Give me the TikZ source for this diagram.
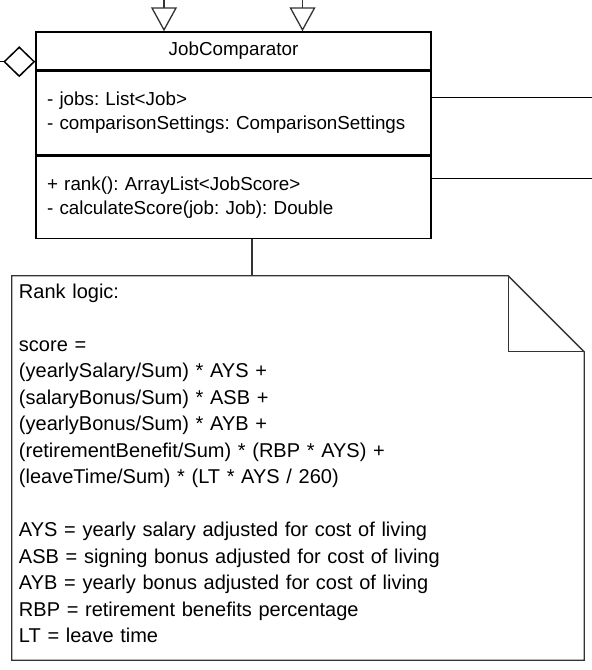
\documentclass[tikz,border=0pt]{standalone}
\usepackage{fontspec}
\setmainfont{Liberation Sans}
\usepackage{xcolor}
\usetikzlibrary{positioning,calc,arrows.meta}

\definecolor{edgegray}{HTML}{333333}
\newcommand{\umlfont}{\frenchspacing\fontsize{18.8}{24}\selectfont}
\newcommand{\notefont}{\frenchspacing\fontsize{20}{26.5}\selectfont}

\tikzset{
    classpart/.style={draw=black, line width=1.5pt, minimum width=395pt, inner xsep=11pt, inner ysep=0pt, font=\umlfont},
    classhead/.style={classpart, minimum height=38pt},
    classbody/.style={classpart, text width=373pt, align=left},
    noteline/.style={draw=edgegray, line width=1.3pt, line join=miter},
    link/.style={draw=edgegray, line width=1.3pt}
}

\begin{document}
\begin{tikzpicture}[x=1pt, y=-1pt]
    \useasboundingbox (0,0) rectangle (592,670);

    % class
    \node[classhead] (head) at (233.5,51) {JobComparator};
    \node[classbody, below=0pt of head, minimum height=83pt] (attrs) {- jobs: List<Job>\\- comparisonSettings: ComparisonSettings};
    \node[classbody, below=0pt of attrs, minimum height=82.5pt] (meths) {+ rank(): ArrayList<JobScore>\\- calculateScore(job: Job): Double};

    % note
    \node[minimum width=572pt, minimum height=384pt, inner sep=0pt] (note) at (298,468) {};
    \draw[noteline] (note.north west) -- ($(note.north east)+(-76,0)$) -- ($(note.north east)+(0,76)$) -- (note.south east) -- (note.south west) -- cycle;
    \draw[noteline] ($(note.north east)+(-76,0)$) |- ($(note.north east)+(0,76)$);
    \node[anchor=north west, inner sep=0pt, text width=540pt, align=left, font=\notefont] (rank) at ($(note.north west)+(7,8)$) {Rank logic:\\[26.5pt]
        score =\\
        (yearlySalary/Sum) * AYS +\\
        (salaryBonus/Sum) * ASB +\\
        (yearlyBonus/Sum) * AYB +\\
        (retirementBenefit/Sum) * (RBP * AYS) +\\
        (leaveTime/Sum) * (LT * AYS / 260)\\[26.5pt]
        AYS = yearly salary adjusted for cost of living\\
        ASB = signing bonus adjusted for cost of living\\
        AYB = yearly bonus adjusted for cost of living\\
        RBP = retirement benefits percentage\\
        LT = leave time};

    % connectors
    \coordinate (notelink) at ($(meths.south)+(18.5,0)$);
    \draw[link] (notelink) -- (notelink |- note.north);

    \coordinate (gen1) at (164,0);
    \coordinate (gen2) at (302.5,0);
    \foreach \g in {gen1,gen2}
        \draw[link, -{Triangle[open, length=24pt, width=26pt, line width=1.3pt]}] (\g) -- (\g |- head.north);

    \coordinate (agg) at (0,61.7);
    \draw[link, draw=black, -{Diamond[open, length=32pt, width=31pt, line width=1.5pt]}] (agg) -- (agg -| head.west);

    \coordinate (out1) at (592,97.7);
    \coordinate (out2) at (592,178.3);
    \draw[link, draw=black] (out1 -| attrs.east) -- (out1);
    \draw[link, draw=black] (out2 -| meths.east) -- (out2);
\end{tikzpicture}
\end{document}
